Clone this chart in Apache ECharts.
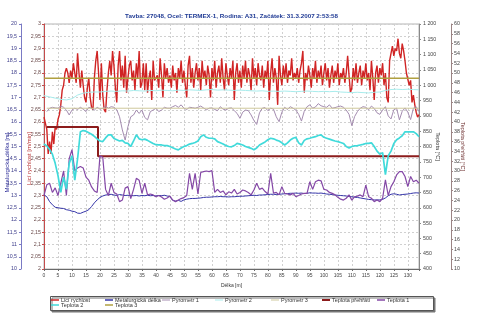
<!DOCTYPE html>
<html>
<head>
<meta charset="utf-8">
<script src="https://cdn.jsdelivr.net/npm/echarts@6/dist/echarts.min.js"></script>
<style>
  html, body { margin: 0; padding: 0; background: #ffffff; }
  #chart { width: 480px; height: 326px; }
</style>
</head>
<body>
<div id="chart"></div>
<script>
// ---- data: distance along the strand [m] vs. measured values ----

// Licí rychlost [m/min], one sample every 0.5 m
const castingSpeedStep = 0.5;
const castingSpeed = [
  2.62, 2.62, 2.57, 2.47, 2.52, 2.47, 2.56, 2.51, 2.58, 2.57,
  2.61, 2.63, 2.67, 2.73, 2.75, 2.80, 2.82, 2.80, 2.76, 2.81,
  2.78, 2.84, 2.80, 2.76, 2.88, 2.80, 2.74, 2.81, 2.75, 2.70,
  2.68, 2.74, 2.78, 2.70, 2.66, 2.65, 2.78, 2.85, 2.89, 2.80,
  2.69, 2.84, 2.71, 2.65, 2.64, 2.73, 2.80, 2.85, 2.79, 2.89,
  2.83, 2.74, 2.68, 2.83, 2.89, 2.77, 2.83, 2.74, 2.87, 2.72,
  2.78, 2.83, 2.85, 2.77, 2.81, 2.73, 2.84, 2.78, 2.89, 2.74,
  2.76, 2.84, 2.73, 2.84, 2.72, 2.78, 2.81, 2.69, 2.85, 2.77,
  2.78, 2.79, 2.74, 2.86, 2.79, 2.70, 2.84, 2.78, 2.82, 2.76,
  2.79, 2.74, 2.83, 2.77, 2.80, 2.72, 2.82, 2.78, 2.85, 2.76,
  2.81, 2.75, 2.70, 2.83, 2.87, 2.76, 2.82, 2.74, 2.80, 2.84,
  2.77, 2.82, 2.73, 2.85, 2.78, 2.81, 2.75, 2.83, 2.79, 2.70,
  2.82, 2.77, 2.85, 2.74, 2.80, 2.83, 2.76, 2.86, 2.78, 2.73,
  2.84, 2.79, 2.75, 2.82, 2.78, 2.85, 2.69, 2.80, 2.84, 2.76,
  2.81, 2.74, 2.83, 2.78, 2.85, 2.76, 2.82, 2.79, 2.73, 2.86,
  2.78, 2.82, 2.75, 2.84, 2.79, 2.77, 2.83, 2.74, 2.81, 2.78,
  2.85, 2.69, 2.80, 2.86, 2.76, 2.82, 2.78, 2.67, 2.87, 2.79,
  2.75, 2.83, 2.78, 2.84, 2.76, 2.81, 2.79, 2.86, 2.77, 2.80,
  2.78, 2.82, 2.76, 2.81, 2.84, 2.89, 2.72, 2.80, 2.77, 2.83,
  2.79, 2.74, 2.82, 2.78, 2.85, 2.76, 2.81, 2.78, 2.83, 2.75,
  2.80, 2.84, 2.77, 2.82, 2.74, 2.79, 2.83, 2.76, 2.81, 2.78,
  2.84, 2.75, 2.80, 2.78, 2.82, 2.76, 2.80, 2.87, 2.79, 2.72,
  2.74, 2.82, 2.77, 2.84, 2.76, 2.80, 2.83, 2.75, 2.81, 2.78,
  2.84, 2.77, 2.80, 2.73, 2.85, 2.78, 2.69, 2.80, 2.83, 2.76,
  2.82, 2.79, 2.84, 2.75, 2.80, 2.70, 2.68, 2.85, 2.88, 2.91,
  2.87, 2.90, 2.89, 2.94, 2.88, 2.86, 2.92, 2.89, 2.85, 2.80,
  2.80, 2.75, 2.77, 2.68, 2.71, 2.67, 2.64, 2.62, 2.63
];

// Metalurgická délka [m], one sample per metre
const metLength = [
  13.02, 12.95, 12.75, 12.62, 12.52, 12.50, 12.48, 12.47, 12.42, 12.40,
  12.36, 12.34, 12.28, 12.27, 12.32, 12.36, 12.42, 12.55, 12.70, 12.82,
  12.92, 12.98, 13.02, 13.03, 13.05, 13.02, 13.00, 13.04, 13.02, 13.00,
  13.01, 13.00, 12.99, 13.00, 12.98, 13.00, 12.99, 13.01, 12.99, 13.00,
  12.98, 13.00, 12.99, 13.01, 12.98, 12.95, 12.80, 12.77, 12.80, 12.76,
  12.82, 12.85, 12.87, 12.88, 12.88, 12.89, 12.90, 12.92, 12.93, 12.93,
  12.94, 12.95, 12.95, 12.96, 12.95, 12.95, 12.94, 12.95, 12.95, 12.96,
  12.97, 12.97, 12.98, 12.99, 13.00, 13.01, 13.00, 13.02, 13.02, 13.03,
  13.04, 13.05, 13.05, 13.04, 13.05, 13.06, 13.07, 13.08, 13.09, 13.09,
  13.10, 13.09, 13.10, 13.08, 13.09, 13.11, 13.10, 13.10, 13.09, 13.10,
  13.08, 13.06, 13.05, 13.04, 13.02, 13.01, 13.00, 12.99, 12.98, 12.96,
  12.95, 12.93, 12.92, 12.90, 12.88, 12.86, 12.84, 12.83, 12.82, 12.82,
  12.82, 12.84, 12.90, 12.99, 13.05, 13.07, 13.05, 13.02, 13.04, 13.05,
  13.06, 13.08, 13.10, 13.11, 13.10
];

// Pyrometr 1 [°C], one sample per metre (no reading at 0 m)
const pyrometer1 = [
  null, 914, 925, 928, 926, 925, 932, 928, 919, 903,
  919, 925, 921, 928, 922, 914, 928, 925, 919, 928,
  922, 925, 932, 925, 930, 928, 920, 897, 854, 821,
  865, 897, 903, 919, 908, 919, 895, 887, 914, 919,
  925, 914, 919, 928, 925, 925, 930, 934, 928, 936,
  925, 921, 928, 927, 925, 928, 932, 926, 920, 925,
  926, 921, 917, 930, 922, 919, 925, 926, 917, 908,
  892, 912, 919, 917, 903, 885, 872, 910, 925, 927,
  917, 925, 922, 897, 881, 912, 928, 921, 930, 925,
  919, 905, 883, 915, 930, 936, 925, 929, 940, 933,
  930, 928, 936, 925, 927, 930, 932, 928, 919, 905,
  868, 898, 914, 925, 930, 928, 920, 932, 924, 910,
  905, 919, 930, 900, 890, 920, 925, 887, 915, 926,
  912, 888, 925, 930, 914
];

// Pyrometr 2 [°C], one sample every 2 m
const pyrometer2Step = 2;
const pyrometer2 = [
  966, 962, 958, 954, 952, 956, 968, 974, 977, 978,
  978, 980, 981, 980, 982, 981, 983, 982, 981, 983,
  982, 984, 983, 982, 984, 983, 985, 984, 983, 985,
  986, 984, 985, 984, 983, 984, 983, 982, 981, 982,
  980, 981, 980, 981, 980, 979, 980, 981, 980, 979,
  980, 979, 980, 978, 977, 976, 977, 976, 975, 977,
  978, 983, 986, 987, 986, 987, 986, 985
];

// Pyrometr 3 [°C]
const pyrometer3Dist = [1, 134];
const pyrometer3 = [925, 925];

// Teplota přehřátí [°C]
const superheatDist = [1, 19.3, 134];
const superheat = [39, 33, 33];

// Teplota 1 [°C], one sample per metre
const temp1 = [
  640, 675, 680, 650, 665, 640, 680, 720, 640, 760,
  790, 720, 730, 735, 730, 700, 690, 668, 655, 650,
  770, 765, 660, 640, 680, 650, 645, 620, 625, 664,
  669, 630, 660, 696, 690, 647, 680, 642, 645, 642,
  636, 640, 635, 628, 632, 638, 625, 620, 625, 630,
  633, 640, 712, 660, 712, 645, 715, 718, 720, 718,
  721, 650, 660, 650, 655, 642, 652, 648, 660, 645,
  650, 658, 655, 650, 642, 658, 680, 660, 664, 653,
  645, 712, 648, 650, 642, 669, 647, 645, 642, 647,
  636, 640, 645, 647, 647, 685, 660, 685, 690, 688,
  660, 658, 650, 647, 642, 634, 628, 625, 631, 642,
  625, 636, 638, 642, 636, 674, 636, 631, 620, 625,
  620, 631, 691, 640, 669, 685, 707, 718, 718, 702,
  669, 702, 685, 690, 680
];

// Teplota 2 [°C], one sample per metre
const temp2 = [
  808, 802, 790, 775, 745, 705, 650, 700, 660, 745,
  770, 690, 760, 848, 852, 850, 845, 840, 833, 825,
  818, 816, 828, 838, 838, 826, 822, 818, 820, 812,
  810, 800, 818, 838, 825, 822, 824, 820, 815, 810,
  806, 805, 805, 803, 803, 800, 796, 792, 789, 795,
  800, 803, 808, 810, 813, 818, 832, 838, 830, 827,
  827, 825, 816, 812, 808, 803, 800, 799, 803, 810,
  808, 805, 800, 797, 794, 789, 795, 805, 810, 815,
  822, 827, 825, 821, 818, 812, 805, 812, 821, 827,
  830, 812, 805, 820, 825, 827, 830, 832, 836, 838,
  830, 827, 824, 821, 818, 816, 813, 810, 800, 795,
  800, 802, 803, 805, 807, 810, 810, 812, 800, 785,
  775, 780, 708, 770, 785, 810, 822, 828, 835, 848,
  848, 848, 848, 842, 832
];

// Teplota 3 [°C]
const temp3Dist = [0, 134];
const temp3 = [1023, 1023];

// ---- helpers ----
const sampled = (values, step) => values.map((v, i) => [i * step, v]);
const zipped = (xs, ys) => xs.map((x, i) => [x, ys[i]]);
const FONT = '"Liberation Sans", Arial, sans-serif';
const comma = v => String(parseFloat(v.toFixed(2))).replace('.', ',');
const thousands = v => v >= 1000 ? Math.floor(v / 1000) + ' ' + String(v % 1000).padStart(3, '0') : String(v);

const line = (name, data, yAxisIndex, color, width, extra) => Object.assign({
  name, type: 'line', data, yAxisIndex,
  symbol: 'none', showSymbol: false, animation: false,
  lineStyle: { color, width }, itemStyle: { color }
}, extra || {});

const seriesDefs = [
  line('Licí rychlost', sampled(castingSpeed, castingSpeedStep), 0, '#d02424', 1.4),
  line('Metalurgická délka', sampled(metLength, 1), 1, '#3434a8', 1),
  line('Pyrometr 1', sampled(pyrometer1, 1), 2, '#a48cb0', 1),
  line('Pyrometr 2', sampled(pyrometer2, pyrometer2Step), 2, '#a8ecec', 1),
  line('Pyrometr 3', zipped(pyrometer3Dist, pyrometer3), 2, '#cfc89c', 1),
  line('Teplota přehřátí', zipped(superheatDist, superheat), 3, '#8c1c1c', 2, { step: 'end' }),
  line('Teplota 1', sampled(temp1, 1), 2, '#8448a6', 1.2),
  line('Teplota 2', sampled(temp2, 1), 2, '#40dada', 1.7),
  line('Teplota 3', zipped(temp3Dist, temp3), 2, '#b0a040', 1.5)
];

// legend entries: [name, icon left, row centre, icon thickness]
const legendSlots = [
  ['Licí rychlost', 51, 300.5, 1.5],
  ['Metalurgická délka', 105, 300.5, 1.5],
  ['Pyrometr 1', 162, 300.5, 1],
  ['Pyrometr 2', 215, 300.5, 1],
  ['Pyrometr 3', 271, 300.5, 1],
  ['Teplota přehřátí', 322, 300.5, 2],
  ['Teplota 1', 377, 300.5, 1.5],
  ['Teplota 2', 51, 305.5, 1.5],
  ['Teplota 3', 105, 305.5, 1.5]
];

const legends = legendSlots.map(([name, left, cy, h]) => ({
  data: [name], left, top: cy - 3.5, padding: 0,
  icon: 'rect', itemWidth: 8, itemHeight: h,
  selectedMode: false,
  textStyle: { fontSize: 5.5, color: '#333333', fontFamily: FONT, padding: [0, 0, 0, -3] }
}));

const gridLine = { show: true, lineStyle: { color: '#d0d0d0', width: 1, type: [2, 2] } };

const chart = echarts.init(document.getElementById('chart'), null, { renderer: 'canvas' });
chart.setOption({
  backgroundColor: '#ffffff',
  animation: false,
  grid: {
    left: 44, right: 61, top: 24, bottom: 57,
    outerBoundsMode: 'none', containLabel: false,
    show: true, borderColor: '#b4b4b4', borderWidth: 1
  },
  legend: legends,
  graphic: [
    {
      type: 'text', z: 10,
      style: {
        x: 231.5, y: 16, align: 'center', verticalAlign: 'middle',
        text: 'Tavba: 27048, Ocel: TERMEX-1, Rodina: A31, Začátek: 31.3.2007 2:53:58',
        fill: '#1f3a94', font: 'bold 6.25px ' + FONT
      }
    },
    {
      type: 'rect', z: -1,
      shape: { x: 50.5, y: 296.5, width: 383, height: 14 },
      style: { fill: '#ffffff', stroke: '#555555', lineWidth: 1, shadowColor: '#777777', shadowOffsetX: 1.5, shadowOffsetY: 1.5 }
    }
  ],
  xAxis: {
    type: 'value', min: 0, max: 134, interval: 5,
    name: 'Délka [m]', nameLocation: 'middle', nameGap: 14, nameMoveOverlap: false,
    nameTextStyle: { fontSize: 5, color: '#333333', fontFamily: FONT },
    axisLine: { show: true, onZero: false, lineStyle: { color: '#6a6a6a' } },
    axisTick: { show: true, length: 2, lineStyle: { color: '#6a6a6a' } },
    axisLabel: { fontSize: 5, color: '#444444', margin: 4, fontFamily: FONT,
      formatter: v => (v % 5 === 0 ? String(v) : '') },
    splitLine: gridLine
  },
  yAxis: [
    {
      type: 'value', position: 'left', min: 2, max: 3, interval: 0.05,
      name: 'Licí rychlost [m/min]', nameLocation: 'middle', nameGap: 12, nameMoveOverlap: false,
      nameTextStyle: { fontSize: 6, color: '#b83030', fontFamily: FONT, padding: [0, 24, 0, 0] },
      axisLine: { show: true, lineStyle: { color: '#c44c4c' } },
      axisTick: { show: true, length: 2, lineStyle: { color: '#c44c4c' } },
      axisLabel: { fontSize: 5.3, color: '#6a4a4a', margin: 3, fontFamily: FONT, formatter: comma },
      splitLine: gridLine
    },
    {
      type: 'value', position: 'left', offset: 23, min: 10, max: 20, interval: 0.5,
      name: 'Metalurgická délka [m]', nameLocation: 'middle', nameGap: 10.5, nameMoveOverlap: false,
      nameTextStyle: { fontSize: 6, color: '#30309a', fontFamily: FONT, padding: [0, 32, 0, 0] },
      axisLine: { show: true, lineStyle: { color: '#7a7ac4' } },
      axisTick: { show: true, length: 2, lineStyle: { color: '#7a7ac4' } },
      axisLabel: { fontSize: 5.3, color: '#3c3c8a', margin: 4, fontFamily: FONT, formatter: comma },
      splitLine: { show: false }
    },
    {
      type: 'value', position: 'right', min: 400, max: 1200, interval: 50,
      name: 'Teplota [°C]', nameLocation: 'middle', nameGap: 16, nameRotate: -90, nameMoveOverlap: false,
      nameTextStyle: { fontSize: 5.5, color: '#333333', fontFamily: FONT },
      axisLine: { show: true, lineStyle: { color: '#8a8a8a' } },
      axisTick: { show: true, length: 2, lineStyle: { color: '#8a8a8a' } },
      axisLabel: { fontSize: 5.3, color: '#444444', margin: 4, fontFamily: FONT, formatter: thousands },
      splitLine: { show: false }
    },
    {
      type: 'value', position: 'right', offset: 32, min: 10, max: 60, interval: 2,
      name: 'Teplota přehřátí [°C]', nameLocation: 'middle', nameGap: 9, nameRotate: -90, nameMoveOverlap: false,
      nameTextStyle: { fontSize: 5.5, color: '#6a2a2a', fontFamily: FONT },
      axisLine: { show: true, lineStyle: { color: '#9a8484' } },
      axisTick: { show: true, length: 2, lineStyle: { color: '#9a8484' } },
      axisLabel: { fontSize: 5.3, color: '#444444', margin: 3, fontFamily: FONT },
      splitLine: { show: false }
    }
  ],
  series: seriesDefs
});
</script>
</body>
</html>
